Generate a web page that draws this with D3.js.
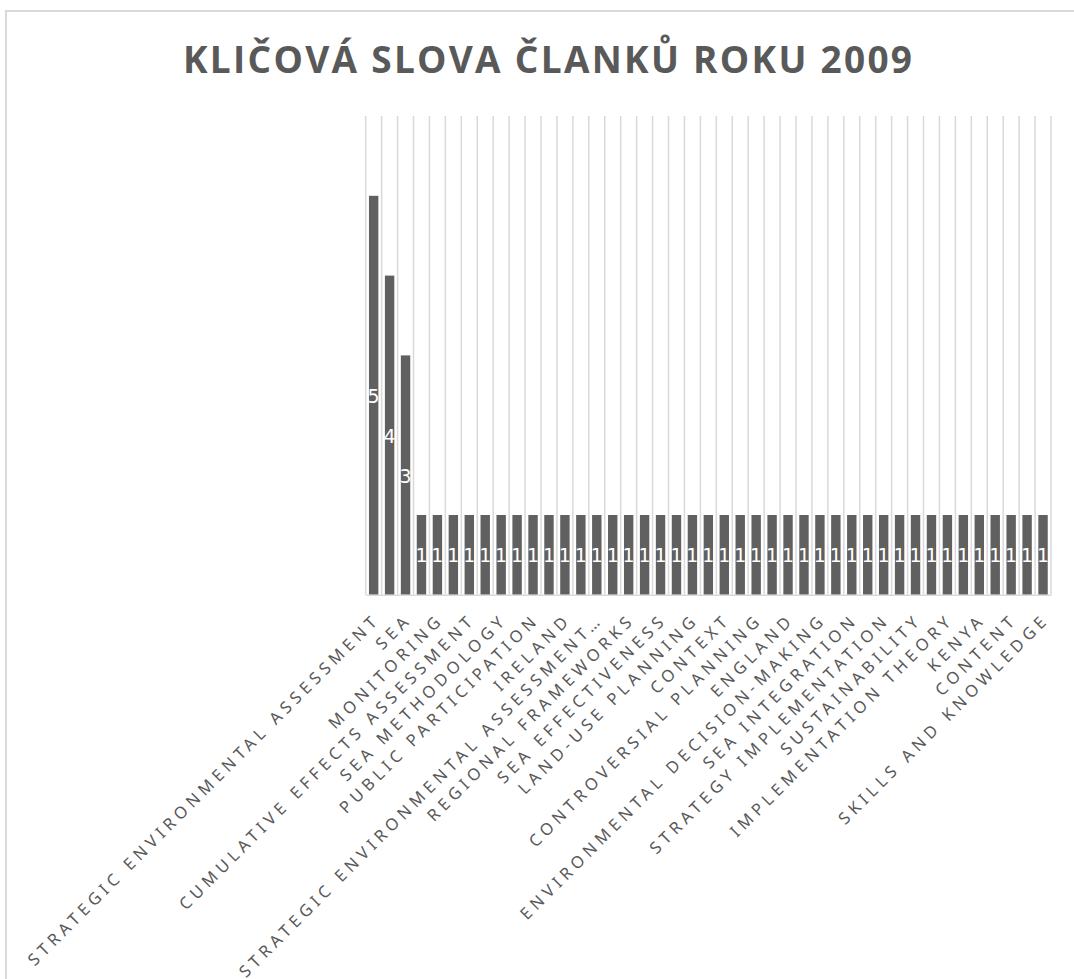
<!DOCTYPE html>
<html>
<head>
<meta charset="utf-8">
<script src="https://cdn.jsdelivr.net/npm/d3@7"></script>
<style>
  body { margin: 0; background: #fff; }
  svg { display: block; }
</style>
</head>
<body>
<svg id="chart" width="1074" height="979"></svg>
<script>
// Keyword frequencies of 2009 articles
const chartTitle = "KLIČOVÁ SLOVA ČLANKŮ ROKU 2009";

// Category labels printed on the axis (every second category is labelled)
const keywordLabels = [
  "STRATEGIC ENVIRONMENTAL ASSESSMENT",
  "SEA",
  "MONITORING",
  "CUMULATIVE EFFECTS ASSESSMENT",
  "SEA METHODOLOGY",
  "PUBLIC PARTICIPATION",
  "IRELAND",
  "STRATEGIC ENVIRONMENTAL ASSESSMENT…",
  "REGIONAL FRAMEWORKS",
  "SEA EFFECTIVENESS",
  "LAND-USE PLANNING",
  "CONTEXT",
  "CONTROVERSIAL PLANNING",
  "ENGLAND",
  "ENVIRONMENTAL DECISION-MAKING",
  "SEA INTEGRATION",
  "STRATEGY IMPLEMENTATION",
  "SUSTAINABILITY",
  "IMPLEMENTATION THEORY",
  "KENYA",
  "CONTENT",
  "SKILLS AND KNOWLEDGE"
];

// Number of articles per keyword, in chart order
const counts = [
  5, 4, 3, 1, 1, 1, 1, 1, 1, 1,
  1, 1, 1, 1, 1, 1, 1, 1, 1, 1,
  1, 1, 1, 1, 1, 1, 1, 1, 1, 1,
  1, 1, 1, 1, 1, 1, 1, 1, 1, 1,
  1, 1, 1
];

const labelStep = 2;
const valueMax = 6;

const svg = d3.select("#chart");
const plot = { left: 365.7, right: 1051, top: 116, bottom: 594.8 };

const textColor = "#595959";
const gridColor = "#d9d9d9";
const barColor = "#606060";

// Outer chart frame (left and top edges)
svg.append("path")
  .attr("d", "M6,979 L6,11 L1074,11")
  .attr("fill", "none")
  .attr("stroke", gridColor)
  .attr("stroke-width", 2);

// Title
svg.append("text")
  .attr("x", 183)
  .attr("y", 72.7)
  .attr("textLength", 729)
  .attr("lengthAdjust", "spacing")
  .attr("font-family", "'Open Sans', 'Noto Sans', sans-serif")
  .attr("font-weight", 700)
  .attr("font-size", 37)
  .attr("fill", textColor)
  .text(chartTitle);

const x = d3.scaleBand()
  .domain(d3.range(counts.length))
  .range([plot.left, plot.right])
  .paddingInner(0.41)
  .paddingOuter(0.205);

const y = d3.scaleLinear()
  .domain([0, valueMax])
  .range([plot.bottom, plot.top]);

// Vertical gridlines on category boundaries
const halfGap = (x.step() - x.bandwidth()) / 2;
const boundaries = d3.range(counts.length).map(i => x(i) - halfGap);
boundaries.push(x(counts.length - 1) + x.bandwidth() + halfGap);

svg.append("g")
  .selectAll("line")
  .data(boundaries)
  .join("line")
  .attr("x1", d => d)
  .attr("x2", d => d)
  .attr("y1", plot.top)
  .attr("y2", plot.bottom)
  .attr("stroke", gridColor)
  .attr("stroke-width", 1.5);

// Bars
svg.append("g")
  .selectAll("rect")
  .data(counts)
  .join("rect")
  .attr("x", (d, i) => x(i))
  .attr("y", d => y(d))
  .attr("width", x.bandwidth())
  .attr("height", d => y(0) - y(d))
  .attr("fill", barColor);

// Value labels centred inside the bars
svg.append("g")
  .selectAll("text")
  .data(counts)
  .join("text")
  .attr("x", (d, i) => x(i) + x.bandwidth() / 2)
  .attr("y", d => (y(d) + y(0)) / 2 + 7.5)
  .attr("text-anchor", "middle")
  .attr("font-family", "'DejaVu Sans', sans-serif")
  .attr("font-size", 19)
  .attr("fill", "#ffffff")
  .text(d => d);

// Category axis
const xAxis = d3.axisBottom(x)
  .tickValues(d3.range(0, counts.length, labelStep))
  .tickSize(0)
  .tickSizeOuter(0)
  .tickFormat(i => keywordLabels[i / labelStep]);

const axisG = svg.append("g")
  .attr("transform", `translate(0,${plot.bottom})`)
  .call(xAxis);

axisG.select(".domain")
  .attr("stroke", gridColor)
  .attr("stroke-width", 1.5);

const tickText = axisG.selectAll(".tick text")
  .attr("x", 0)
  .attr("y", 0)
  .attr("dy", null)
  .attr("text-anchor", "end")
  .attr("font-family", "'Noto Sans', 'Open Sans', sans-serif")
  .attr("font-size", 16.5)
  .attr("fill", textColor)
  .attr("letter-spacing", 0);

// Spread the letters so the longest label spans its measured length
const first = tickText.nodes()[0];
const natural = first.getComputedTextLength();
const chars = keywordLabels[0].length;
const spacing = Math.max(0, (485 - natural) / (chars - 1));

tickText
  .attr("letter-spacing", spacing)
  .attr("transform", `translate(${4 + spacing * 0.707},${29 - spacing * 0.707}) rotate(-45)`);
</script>
</body>
</html>
